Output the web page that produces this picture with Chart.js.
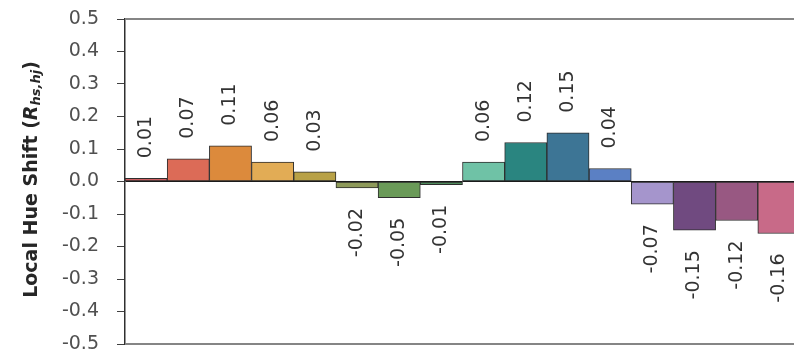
<!DOCTYPE html>
<html>
<head>
<meta charset="utf-8">
<script src="https://cdn.jsdelivr.net/npm/chart.js@4/dist/chart.umd.min.js"></script>
<style>
  html, body { margin: 0; padding: 0; background: #ffffff; overflow: hidden; width: 794px; height: 350px; }
  #wrap { position: absolute; left: 0; top: 0; width: 830px; height: 372px; }
</style>
</head>
<body>
<div id="wrap"><canvas id="chart" width="830" height="372"></canvas></div>
<script>
// Hue segments (index around the hue circle) and their local hue shift values
const hueSegments = ['1', '2', '3', '4', '5', '6', '7', '8', '9', '10', '11', '12', '13', '14', '15', '16'];
const hueShift = [0.01, 0.07, 0.11, 0.06, 0.03, -0.02, -0.05, -0.01, 0.06, 0.12, 0.15, 0.04, -0.07, -0.15, -0.12, -0.16];
const segmentColors = [
  '#cf5f62', '#dc6b57', '#dc8a3c', '#e2ac55', '#b8a146', '#8e9a5a', '#6a9a58', '#4f8c5c',
  '#6fc2a6', '#2a8580', '#3d7595', '#5b80c4', '#a595cc', '#704a80', '#985882', '#c86a88'
];
// Y axis range and tick step
const yMin = -0.5;
const yMax = 0.5;
const yStep = 0.1;

const FONT = '"DejaVu Sans", sans-serif';

// Frame lines on top and bottom of the plot area
const framePlugin = {
  id: 'frame',
  beforeDatasetsDraw(chart) {
    const { ctx, chartArea: a } = chart;
    ctx.save();
    ctx.strokeStyle = '#858585';
    ctx.lineWidth = 2;
    ctx.beginPath();
    ctx.moveTo(a.left, a.top);
    ctx.lineTo(a.right, a.top);
    ctx.moveTo(a.left, a.bottom);
    ctx.lineTo(a.right, a.bottom);
    ctx.stroke();
    ctx.restore();
  }
};

// Rotated value labels above positive bars and below negative bars
const valueLabelPlugin = {
  id: 'valueLabels',
  afterDatasetsDraw(chart) {
    const { ctx } = chart;
    const meta = chart.getDatasetMeta(0);
    const values = chart.data.datasets[0].data;
    const gap = 20;
    ctx.save();
    ctx.font = '19px ' + FONT;
    ctx.fillStyle = '#333333';
    ctx.textBaseline = 'middle';
    meta.data.forEach((bar, i) => {
      const v = values[i];
      const text = v.toFixed(2);
      ctx.save();
      if (v >= 0) {
        ctx.translate(bar.x, bar.y - gap);
        ctx.rotate(-Math.PI / 2);
        ctx.textAlign = 'left';
      } else {
        ctx.translate(bar.x, bar.y + gap);
        ctx.rotate(-Math.PI / 2);
        ctx.textAlign = 'right';
      }
      ctx.fillText(text, 0, 0);
      ctx.restore();
    });
    ctx.restore();
  }
};

// Y axis title with italic symbol and subscript
const axisTitlePlugin = {
  id: 'axisTitle',
  afterDraw(chart) {
    const { ctx, chartArea: a } = chart;
    const parts = [
      { t: 'Local Hue Shift (', f: 'bold 19px ' + FONT, dy: 0 },
      { t: 'R', f: 'italic bold 19px ' + FONT, dy: 0 },
      { t: 'hs,hj', f: 'italic bold 13px ' + FONT, dy: 5 },
      { t: ')', f: 'bold 19px ' + FONT, dy: 0 }
    ];
    ctx.save();
    let total = 0;
    parts.forEach(p => { ctx.font = p.f; p.w = ctx.measureText(p.t).width; total += p.w; });
    const cx = a.left - 93;
    const cy = (a.top + a.bottom) / 2 - 2;
    ctx.translate(cx, cy);
    ctx.rotate(-Math.PI / 2);
    ctx.fillStyle = '#262626';
    ctx.textBaseline = 'middle';
    ctx.textAlign = 'left';
    let x = -total / 2;
    parts.forEach(p => {
      ctx.font = p.f;
      ctx.fillText(p.t, x, p.dy);
      x += p.w;
    });
    ctx.restore();
  }
};

new Chart(document.getElementById('chart'), {
  type: 'bar',
  data: {
    labels: hueSegments,
    datasets: [{
      data: hueShift,
      backgroundColor: segmentColors,
      borderColor: '#2e2e2e',
      borderWidth: 1,
      borderSkipped: false,
      barPercentage: 1.0,
      categoryPercentage: 1.0
    }]
  },
  options: {
    responsive: false,
    animation: false,
    devicePixelRatio: 1,
    layout: { padding: { left: 0, top: 19, right: 30, bottom: 28 } },
    plugins: {
      legend: { display: false },
      tooltip: { enabled: false },
      title: { display: false }
    },
    scales: {
      x: {
        display: false
      },
      y: {
        min: yMin,
        max: yMax,
        afterFit(scale) {
          scale.width = 125;
          scale.paddingTop = 0;
          scale.paddingBottom = 0;
        },
        ticks: {
          stepSize: yStep,
          padding: 18,
          color: '#505050',
          font: { family: FONT, size: 19 },
          callback: (v) => Number(v).toFixed(1)
        },
        grid: {
          drawOnChartArea: true,
          drawTicks: true,
          tickLength: 8,
          tickColor: '#404040',
          lineWidth: 1,
          color: (c) => (c.tick && Math.abs(c.tick.value) < 1e-9) ? '#1a1a1a' : 'rgba(0,0,0,0)'
        },
        border: { display: true, color: '#303030', width: 1.5 }
      }
    }
  },
  plugins: [framePlugin, valueLabelPlugin, axisTitlePlugin]
});
</script>
</body>
</html>
